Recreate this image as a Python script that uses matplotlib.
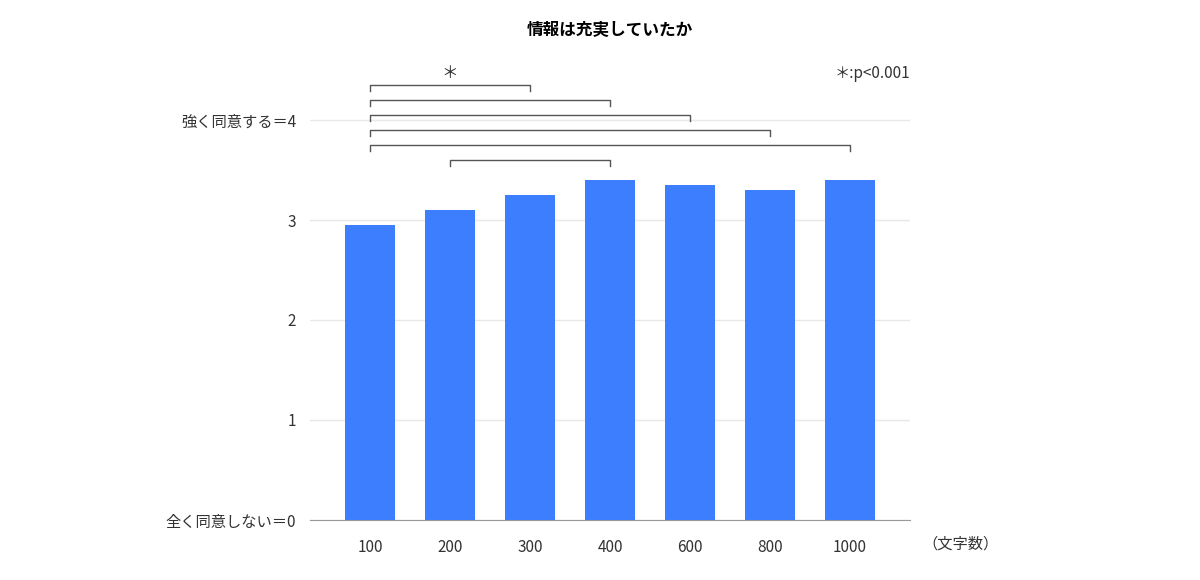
import matplotlib.pyplot as plt

plt.rcParams['font.family'] = ['Noto Sans CJK JP', 'DejaVu Sans']

categories = ['100', '200', '300', '400', '600', '800', '1000']
values = [2.95, 3.1, 3.25, 3.4, 3.35, 3.3, 3.4]
yticks = [0, 1, 2, 3, 4]
ytick_labels = ['全く同意しない＝0', '1', '2', '3', '強く同意する＝4']
# significance brackets: (start index, end index, height)
brackets = [(0, 2, 4.35), (0, 3, 4.2), (0, 4, 4.05), (0, 5, 3.9), (0, 6, 3.75), (1, 3, 3.6)]

fig = plt.figure(figsize=(12, 5.8), dpi=100)
ax = fig.add_axes([310 / 1200, 60 / 580, 600 / 1200, 440 / 580])
x = list(range(len(categories)))
ax.bar(x, values, width=0.625, color='#3d7eff', zorder=3)
ax.set_xlim(-0.75, 6.75)
ax.set_ylim(0, 4.4)
ax.set_yticks(yticks)
ax.set_yticklabels(ytick_labels, fontsize=11, color='#333333')
ax.set_xticks(x)
ax.set_xticklabels(categories, fontsize=11, color='#333333')
ax.tick_params(length=0, pad=14)
ax.tick_params(axis='y', pad=10)
ax.grid(axis='y', color='#e8e8e8', lw=1, zorder=0)
for s in ['top', 'right', 'left']:
    ax.spines[s].set_visible(False)
ax.spines['bottom'].set_color('#999999')

for a, b, h in brackets:
    ax.plot([a, a, b, b], [h - 0.06, h, h, h - 0.06], color='#555555', lw=1, clip_on=False)
ax.text(1, 4.38, '＊', ha='center', va='bottom', fontsize=12, color='#333333')
ax.text(6.75, 4.38, '＊:p<0.001', ha='right', va='bottom', fontsize=11, color='#333333')
ax.text(6.9, -0.24, '（文字数）', ha='left', va='center', fontsize=11, color='#333333')

fig.text(610 / 1200, 1 - 30 / 580, '情報は充実していたか', ha='center', va='center',
         fontsize=12, fontweight='bold')
fig.savefig('out.png')
